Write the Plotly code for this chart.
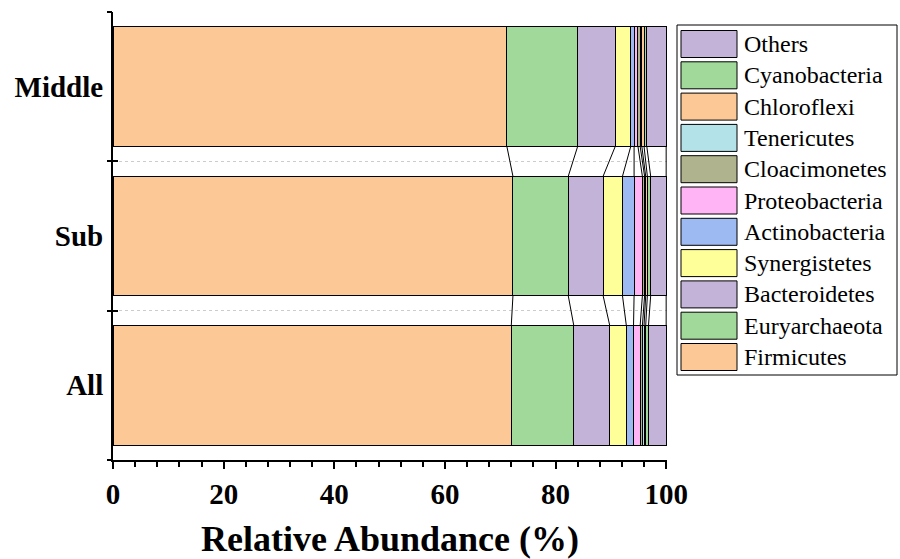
import plotly.graph_objects as go

groups = ["All", "Sub", "Middle"]
phyla = ["Firmicutes", "Euryarchaeota", "Bacteroidetes", "Synergistetes", "Actinobacteria",
         "Proteobacteria", "Cloacimonetes", "Tenericutes", "Chloroflexi", "Cyanobacteria", "Others"]
colors = ["#FCC896", "#A1D99B", "#C4B3D8", "#FFFF99", "#9DBAF2",
          "#FFB4F5", "#B0B48E", "#B3E3E8", "#FCC896", "#A1D99B", "#C4B3D8"]

all_vals = [72.0, 11.3, 6.5, 3.0, 1.3, 1.2, 0.4, 0.3, 0.3, 0.5, 3.2]
sub_vals = [72.3, 10.0, 6.3, 3.5, 2.1, 1.5, 0.4, 0.2, 0.3, 0.6, 2.8]
middle_vals = [71.2, 12.8, 6.8, 2.8, 0.6, 0.7, 0.4, 0.3, 0.4, 0.5, 3.5]

values = [all_vals, sub_vals, middle_vals]
ypos = [0, 1, 2]
bar_w = 0.8

FONT = "Liberation Serif, Times New Roman, Times, serif"
W, H = 900, 559
L, R, T, B = 113, 233, 12, 99

fig = go.Figure()

for j, name in enumerate(phyla):
    fig.add_trace(go.Bar(
        y=ypos, x=[v[j] for v in values], orientation="h", name=name,
        width=bar_w, marker=dict(color=colors[j], line=dict(color="black", width=1)),
        showlegend=False))

# connector lines between segment boundaries of adjacent bars
def cums(v):
    out, s = [], 0
    for a in v:
        s += a
        out.append(s)
    return out

cx, cy = [], []
for k in range(len(values) - 1):
    lo, hi = cums(values[k]), cums(values[k + 1])
    for j in range(len(phyla)):
        cx += [hi[j], lo[j], None]
        cy += [ypos[k + 1] - bar_w / 2, ypos[k] + bar_w / 2, None]
fig.add_trace(go.Scatter(x=cx, y=cy, mode="lines", line=dict(color="black", width=1),
                         showlegend=False, hoverinfo="skip", cliponaxis=False))

# helper traces for overlay axes
for ax in ["y2", "y3", "y4"]:
    fig.add_trace(go.Scatter(x=[None], y=[None], yaxis=ax, showlegend=False, hoverinfo="skip"))

bounds = [-0.5, 0.5, 1.5, 2.5]
yr = [-0.5, 2.5]

fig.update_layout(
    width=W, height=H, margin=dict(l=L, r=R, t=T, b=B, autoexpand=False),
    paper_bgcolor="white", plot_bgcolor="white",
    barmode="stack", bargap=0.2,
    font=dict(family=FONT, color="black"),
    xaxis=dict(range=[0, 100.15], tickvals=[0, 20, 40, 60, 80, 100], automargin=False,
               ticks="outside", ticklen=7, tickwidth=1.5, tickcolor="black",
               showline=True, linecolor="black", linewidth=2, showgrid=False, zeroline=False,
               minor=dict(dtick=4, ticks="outside", ticklen=5, tickwidth=1.5, tickcolor="black"),
               tickfont=dict(family=FONT, size=29, weight="bold"),
               title=dict(text="Relative Abundance (%)", standoff=22,
                          font=dict(family=FONT, size=36, weight="bold"))),
    yaxis=dict(range=yr, tickvals=ypos, ticktext=groups, ticks="outside", ticklen=2,
               automargin=False,
               tickcolor="rgba(0,0,0,0)", showline=True, linecolor="black", linewidth=2,
               showgrid=False, zeroline=False,
               tickfont=dict(family=FONT, size=29, weight="bold")),
    yaxis2=dict(range=yr, overlaying="y", tickvals=bounds, ticktext=[""] * 4, automargin=False,
                ticks="outside", ticklen=5, tickwidth=1.5, tickcolor="black",
                showgrid=False, zeroline=False, showline=False),
    yaxis3=dict(range=yr, overlaying="y", tickvals=bounds, ticktext=[""] * 4, automargin=False,
                ticks="inside", ticklen=5, tickwidth=1.5, tickcolor="black",
                showgrid=False, zeroline=False, showline=False),
    yaxis4=dict(range=yr, overlaying="y", tickvals=bounds[1:3], ticktext=[""] * 2, automargin=False,
                ticks="", showgrid=True, gridcolor="#CCCCCC", griddash="dot", gridwidth=1,
                zeroline=False, showline=False, layer="below traces"),
)

# custom legend (large swatches), top to bottom in reverse stacking order
pw, ph = W - L - R, H - T - B
def px(xp):
    return (xp - L) / pw
def py(yp):
    return (H - B - yp) / ph

shapes = [dict(type="rect", xref="paper", yref="paper",
               x0=px(677), x1=px(897), y0=py(375), y1=py(25),
               line=dict(color="black", width=1), fillcolor="white")]
annotations = []
order = list(range(len(phyla)))[::-1]
for i, j in enumerate(order):
    yc = 44 + 31.3 * i
    shapes.append(dict(type="rect", xref="paper", yref="paper",
                       x0=px(681), x1=px(737), y0=py(yc + 13.5), y1=py(yc - 13.5),
                       line=dict(color="black", width=1), fillcolor=colors[j]))
    annotations.append(dict(xref="paper", yref="paper", x=px(742), y=py(yc),
                            xanchor="left", yanchor="middle", showarrow=False,
                            text=phyla[j], font=dict(family=FONT, size=24, color="black")))
fig.update_layout(shapes=shapes, annotations=annotations)

fig.write_html("out.html")
